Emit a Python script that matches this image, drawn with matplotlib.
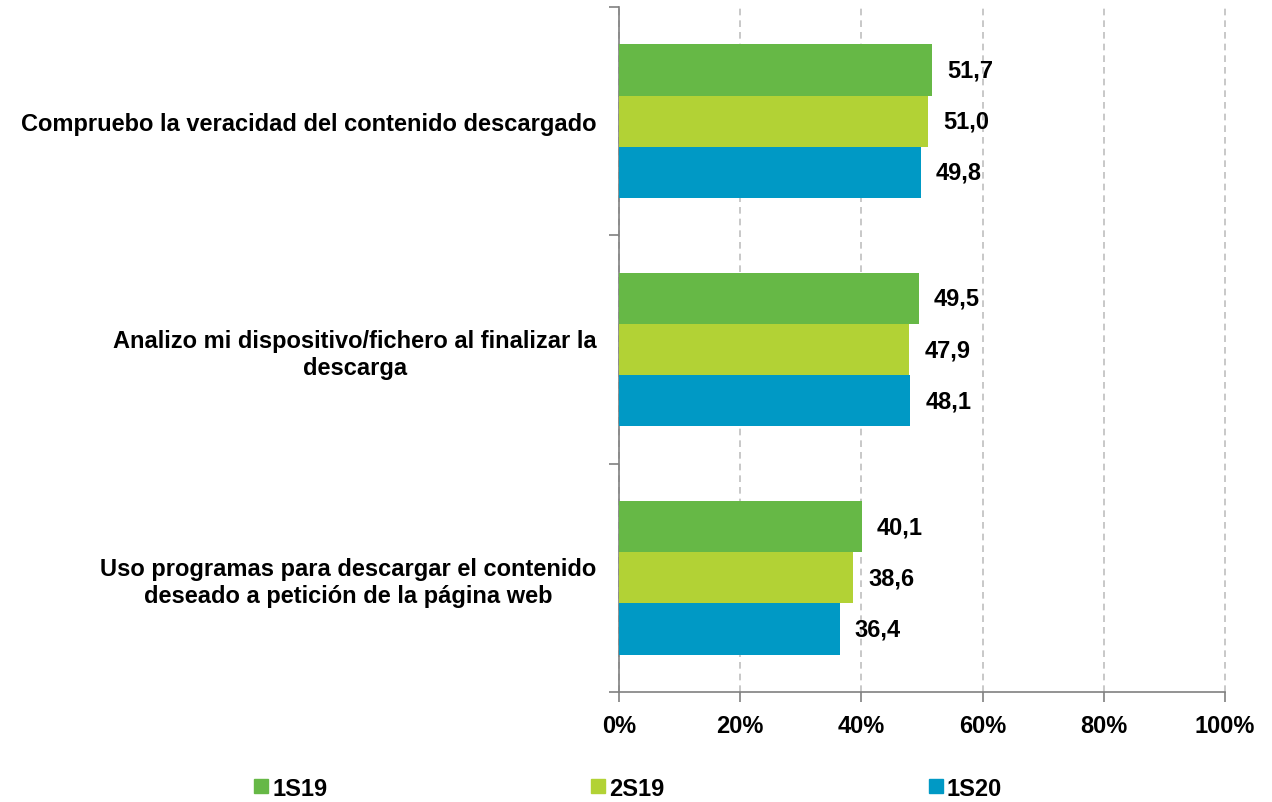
import numpy as np
import matplotlib.pyplot as plt
from matplotlib.lines import Line2D

categories = [
    "Compruebo la veracidad del contenido descargado",
    "Analizo mi dispositivo/fichero al finalizar la\ndescarga",
    "Uso programas para descargar el contenido\ndeseado a petición de la página web",
]
series = ["1S19", "2S19", "1S20"]
values = {
    "1S19": [51.7, 49.5, 40.1],
    "2S19": [51.0, 47.9, 38.6],
    "1S20": [49.8, 48.1, 36.4],
}
colors = {"1S19": "#66B846", "2S19": "#B2D235", "1S20": "#0099C5"}

plt.rcParams['font.family'] = ['Liberation Sans', 'DejaVu Sans']
plt.rcParams['font.weight'] = 'bold'
FS = 17

fig = plt.figure(figsize=(12.72, 8.03), dpi=100)
ax = fig.add_axes([0.4866, 0.137, 0.4764, 0.853])

n = len(categories)
centers = n - 0.5 - np.arange(n)   # first category on top
bh = 0.224
for i, s in enumerate(series):
    y = centers + (1 - i) * bh
    ax.barh(y, values[s], height=bh, color=colors[s], zorder=3)
    for yy, v in zip(y, values[s]):
        ax.text(v + 2.5, yy, f"{v:.1f}".replace(".", ","), va='center', ha='left',
                fontsize=FS, fontweight='bold')

ax.set_xlim(0, 100)
ax.set_ylim(0, n)
ax.set_xticks(np.arange(0, 101, 20))
ax.set_xticklabels([f"{t}%" for t in range(0, 101, 20)], fontsize=FS, fontweight='bold')
ax.tick_params(axis='x', length=7, color='#808080', width=1.2, pad=9)

# category separators as major ticks, labels on minor ticks at the centers
ax.set_yticks(np.arange(0, n + 1))
ax.set_yticklabels([])
ax.tick_params(axis='y', which='major', length=7, color='#808080', width=1.2)
ax.set_yticks(centers, minor=True)
ax.set_yticklabels(categories, minor=True, fontsize=FS, fontweight='bold',
                   ha='right', multialignment='center')
ax.tick_params(axis='y', which='minor', length=0, pad=16)

ax.grid(axis='x', linestyle=(0, (4, 3)), color='#BFBFBF', linewidth=1.2, zorder=0)
for gl in ax.get_xgridlines():
    gl.set_clip_on(False)
for sp in ['top', 'right']:
    ax.spines[sp].set_visible(False)
for sp in ['left', 'bottom']:
    ax.spines[sp].set_color('#808080')
    ax.spines[sp].set_linewidth(1.2)

handles = [Line2D([], [], marker='s', linestyle='none', markersize=9.4,
                  markerfacecolor=colors[s], markeredgecolor=colors[s]) for s in series]
fig.legend(handles, series, loc='center', bbox_to_anchor=(0.494, 0.0174), ncol=3,
           frameon=False, handletextpad=0.2, columnspacing=11.2,
           handlelength=0.55, prop={'weight': 'bold', 'size': FS})

fig.savefig("out.png", dpi=100)
